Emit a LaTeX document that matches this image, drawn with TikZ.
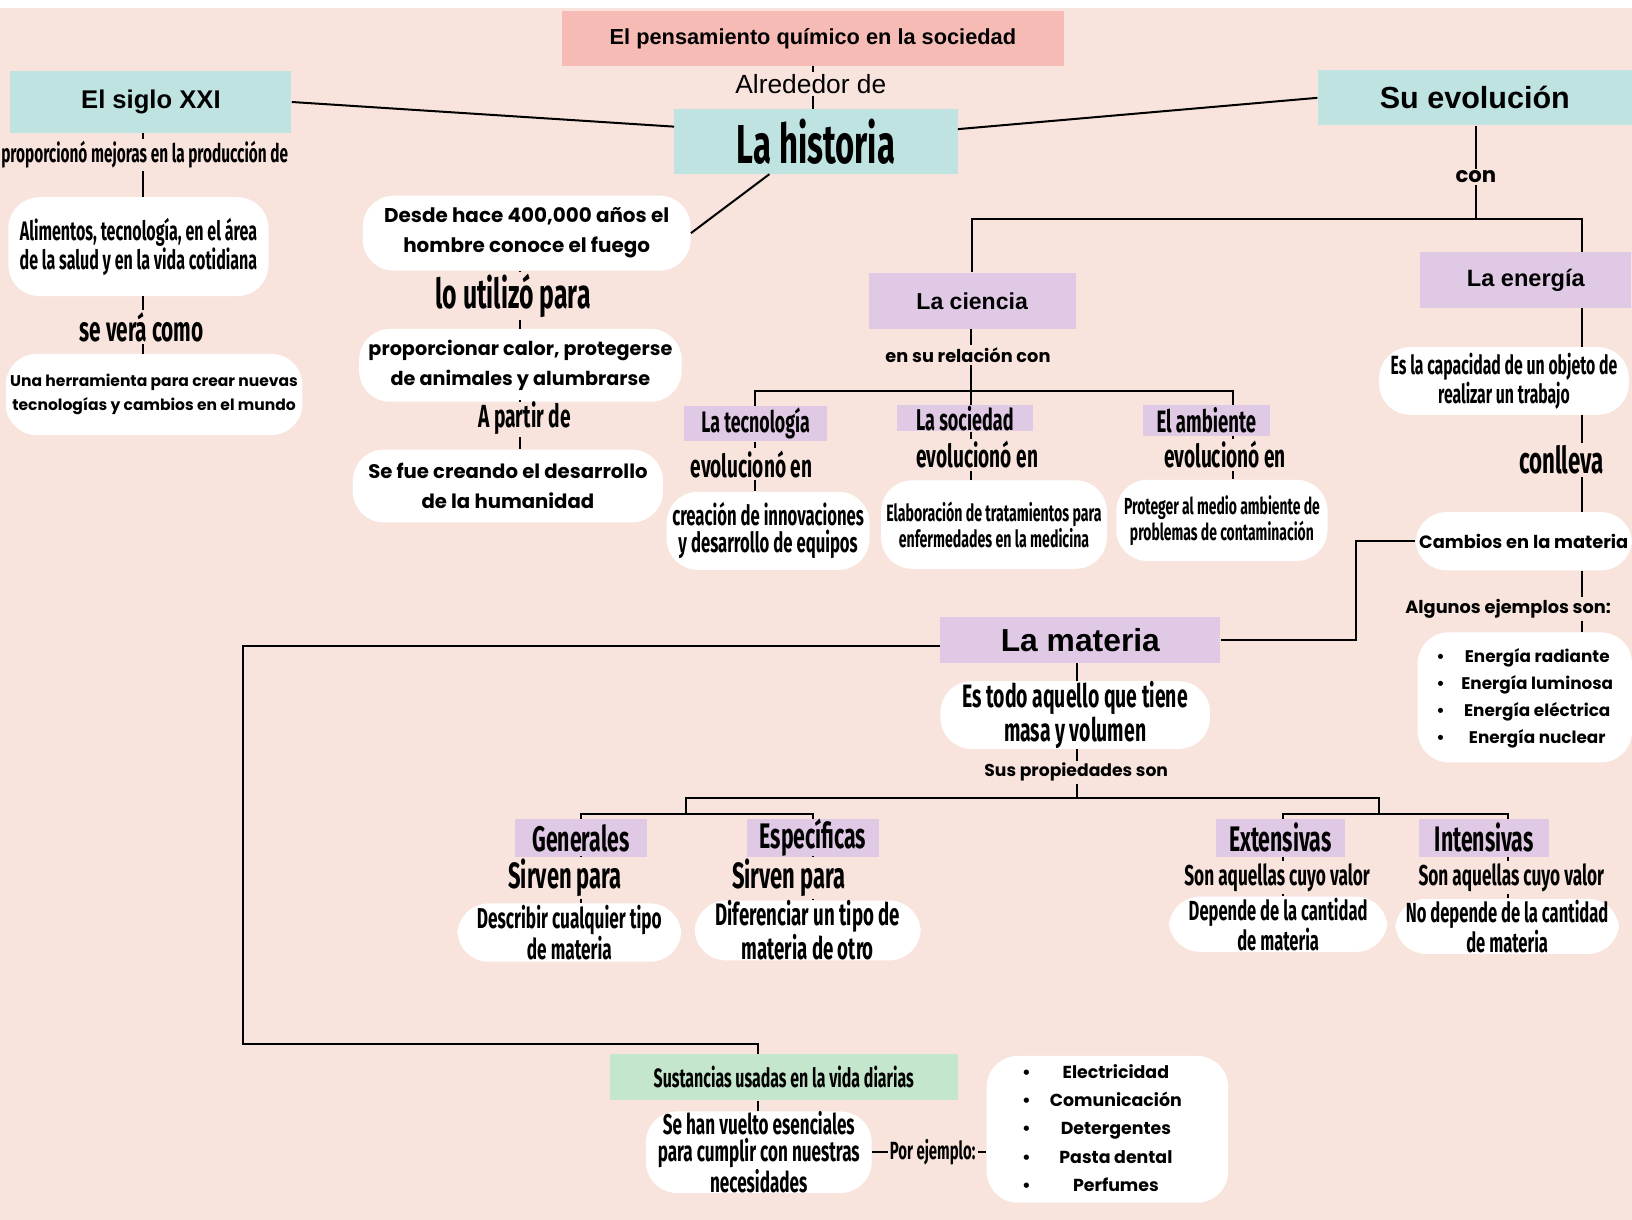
\documentclass[tikz,border=0pt]{standalone}
\usepackage{fontspec}
\setmainfont{Liberation Sans}
\newfontfamily\geo{Poppins}
\newfontfamily\cond[FakeStretch=0.6]{Fira Sans}
\usepackage{tikz}
\usetikzlibrary{calc}
\definecolor{fondo}{RGB}{249,228,221}
\definecolor{salmon}{RGB}{246,187,180}
\definecolor{turquesa}{RGB}{190,227,225}
\definecolor{lila}{RGB}{224,201,229}
\definecolor{menta}{RGB}{196,230,204}
\newcommand\fs[2]{\fontsize{#1}{#2}\selectfont}
\tikzstyle{conn} = [line width=1.1pt, black]
\tikzstyle{titlebox} = [rectangle, fill=salmon, inner sep=0pt, align=center]
\tikzstyle{mainbox} = [rectangle, fill=turquesa, inner sep=0pt, align=center]
\tikzstyle{topic} = [rectangle, fill=lila, inner sep=0pt, align=center]
\tikzstyle{greenbox} = [rectangle, fill=menta, inner sep=0pt, align=center]
\tikzstyle{bubble} = [rectangle, rounded corners=0.6cm, fill=white, inner sep=0pt, align=center]
\tikzstyle{word} = [inner sep=1pt, align=center]

\begin{document}
\begin{tikzpicture}[x=0.02cm, y=-0.02cm]
\useasboundingbox (0,0) rectangle (1568,1172);
\fill[white] (0,0) rectangle (1568,8);
\fill[fondo] (0,8) rectangle (1568,1172);
%----------------------------------------------------------------------------
% Top of the map
\node (title) [titlebox, minimum width=9.66cm, minimum height=1.04cm, font=\bfseries\fs{11.9}{14}] at (781,37) {El pensamiento químico en la sociedad};
\node (alrededor) [word, font=\fs{14.4}{17}] at (779,81) {Alrededor de};
\node (historia) [mainbox, minimum width=5.44cm, minimum height=1.24cm, font=\cond\bfseries\fs{30}{34}] at (784,136) {La historia};
\node (siglo) [mainbox, minimum width=5.4cm, minimum height=1.18cm, font=\bfseries\fs{14}{17}] at (145,98) {El siglo XXI};
\node (evol) [mainbox, minimum width=6.04cm, minimum height=1.06cm, font=\bfseries\fs{16.7}{20}] at (1417,94) {Su evolución};

%----------------------------------------------------------------------------
% El siglo XXI
\node (prop) [word, font=\cond\bfseries\fs{14}{16}] at (139,149) {proporcionó mejoras en la producción de};
\node (alimentos) [bubble, minimum width=5cm, minimum height=1.9cm, font=\cond\bfseries\fs{14.6}{14.2}] at (133,237) {Alimentos, tecnología, en el área\\de la salud y en la vida cotidiana};
\node (vera) [word, font=\cond\bfseries\fs{19}{22}] at (136,314) {se verá como};
\node (herramienta) [bubble, minimum width=5.7cm, minimum height=1.56cm, font=\geo\bfseries\fs{8.5}{13.1}] at (148,379) {Una herramienta para crear nuevas\\tecnologías y cambios en el mundo};

%----------------------------------------------------------------------------
% El fuego
\node (desde) [bubble, minimum width=6.3cm, minimum height=1.44cm, font=\geo\bfseries\fs{10.9}{16.5}] at (506,224) {Desde hace 400,000 años el\\hombre conoce el fuego};
\node (utilizo) [word, font=\cond\bfseries\fs{22.6}{25}] at (493,284) {lo utilizó para};
\node (calor) [bubble, minimum width=6.2cm, minimum height=1.4cm, font=\geo\bfseries\fs{10.5}{16}] at (500,351) {proporcionar calor, protegerse\\de animales y alumbrarse};
\node (apartir) [word, font=\cond\bfseries\fs{17.5}{20}] at (504,402) {A partir de};
\node (creando) [bubble, minimum width=5.96cm, minimum height=1.4cm, font=\geo\bfseries\fs{10.75}{16.5}] at (488,467) {Se fue creando el desarrollo\\de la humanidad};

%----------------------------------------------------------------------------
% Su evolucion
\node (con) [word, font=\geo\bfseries\fs{11.6}{13}] at (1418,170) {con};
\node (ciencia) [topic, minimum width=3.98cm, minimum height=1.08cm, font=\bfseries\fs{12.6}{15}] at (934,289) {La ciencia};
\node (energia) [topic, minimum width=4.06cm, minimum height=1.06cm, font=\bfseries\fs{12.9}{15}] at (1466,269) {La energía};
\node (relacion) [word, font=\geo\bfseries\fs{9.7}{11}] at (930,341) {en su relación con};

\node (tecnologia) [topic, minimum width=2.76cm, minimum height=0.68cm, font=\cond\bfseries\fs{16.2}{18}] at (726,407) {La tecnología};
\node (evolT) [word, font=\cond\bfseries\fs{17.4}{20}] at (722,446) {evolucionó en};
\node (innov) [bubble, minimum width=3.9cm, minimum height=1.5cm, font=\cond\bfseries\fs{15.2}{14.8}] at (738,510) {creación de innovaciones\\y desarrollo de equipos};

\node (sociedad) [topic, minimum width=2.62cm, minimum height=0.5cm, font=\cond\bfseries\fs{16.4}{18}] at (927,402) {La sociedad};
\node (evolS) [word, font=\cond\bfseries\fs{17.4}{20}] at (939,437) {evolucionó en};
\node (tratam) [bubble, minimum width=4.34cm, minimum height=1.7cm, font=\cond\bfseries\fs{12.9}{12.5}] at (955,504) {Elaboración de tratamientos para\\enfermedades en la medicina};

\node (ambiente) [topic, minimum width=2.44cm, minimum height=0.58cm, font=\cond\bfseries\fs{16.9}{18}] at (1159,404) {El ambiente};
\node (evolA) [word, font=\cond\bfseries\fs{17.4}{20}] at (1177,437) {evolucionó en};
\node (proteger) [bubble, minimum width=4.06cm, minimum height=1.56cm, font=\cond\bfseries\fs{12.7}{12}] at (1174,500) {Proteger al medio ambiente de\\problemas de contaminación};

%----------------------------------------------------------------------------
% La energia
\node (capacidad) [bubble, minimum width=4.8cm, minimum height=1.3cm, font=\cond\bfseries\fs{14.4}{14.2}] at (1445,366) {Es la capacidad de un objeto de\\realizar un trabajo};
\node (conlleva) [word, font=\cond\bfseries\fs{20.3}{23}] at (1500,442) {conlleva};
\node (cambios) [bubble, minimum width=4.16cm, minimum height=1.12cm, font=\geo\bfseries\fs{9.75}{11}] at (1464,520) {Cambios en la materia};
\node (ejemplos) [word, font=\geo\bfseries\fs{9.7}{11}] at (1449,585) {Algunos ejemplos son:};
\node (energias) [bubble, minimum width=4.12cm, minimum height=2.5cm, font=\geo\bfseries\fs{9.2}{14.8}] at (1465,670) {%
  \begin{tabular}{@{}l@{\hspace{9pt}}c@{}}
  \textbullet & Energía radiante\\
  \textbullet & Energía luminosa\\
  \textbullet & Energía eléctrica\\
  \textbullet & Energía nuclear
  \end{tabular}};

%----------------------------------------------------------------------------
% La materia
\node (materia) [topic, minimum width=5.38cm, minimum height=0.88cm, font=\bfseries\fs{17.4}{20}] at (1038,615) {La materia};
\node (esTodo) [bubble, minimum width=5.18cm, minimum height=1.3cm, font=\cond\bfseries\fs{17.7}{17}] at (1033,687) {Es todo aquello que tiene\\masa y volumen};
\node (propiedades) [word, font=\geo\bfseries\fs{9.4}{11}] at (1034,742) {Sus propiedades son};

\node (generales) [topic, minimum width=2.54cm, minimum height=0.72cm, font=\cond\bfseries\fs{19.4}{21}] at (558,805) {Generales};
\node (sirvenG) [word, font=\cond\bfseries\fs{20}{22}] at (543,843) {Sirven para};
\node (describir) [bubble, minimum width=4.3cm, minimum height=1.12cm, font=\cond\bfseries\fs{15.7}{15.4}] at (547,896) {Describir cualquier tipo\\de materia};

\node (especificas) [topic, minimum width=2.54cm, minimum height=0.72cm, font=\cond\bfseries\fs{19.4}{21}] at (781,805) {Específicas};
\node (sirvenE) [word, font=\cond\bfseries\fs{20}{22}] at (758,843) {Sirven para};
\node (diferenciar) [bubble, minimum width=4.34cm, minimum height=1.12cm, font=\cond\bfseries\fs{17}{16}] at (776,894) {Diferenciar un tipo de\\materia de otro};

\node (extensivas) [topic, minimum width=2.48cm, minimum height=0.72cm, font=\cond\bfseries\fs{19.4}{21}] at (1230,805) {Extensivas};
\node (valorE) [word, font=\cond\bfseries\fs{15.7}{17}] at (1227,843) {Son aquellas cuyo valor};
\node (dependeE) [bubble, minimum width=4.2cm, minimum height=1.06cm, font=\cond\bfseries\fs{15.1}{15.4}] at (1228,888) {Depende de la cantidad\\de materia};

\node (intensivas) [topic, minimum width=2.5cm, minimum height=0.72cm, font=\cond\bfseries\fs{19.4}{21}] at (1426,805) {Intensivas};
\node (valorI) [word, font=\cond\bfseries\fs{15.7}{17}] at (1452,843) {Son aquellas cuyo valor};
\node (dependeI) [bubble, minimum width=4.3cm, minimum height=1.06cm, font=\cond\bfseries\fs{15.1}{15.4}] at (1448,890) {No depende de la cantidad\\de materia};

%----------------------------------------------------------------------------
% Sustancias
\node (sustancias) [greenbox, minimum width=6.68cm, minimum height=0.88cm, font=\cond\bfseries\fs{14.5}{16}] at (753,1035) {Sustancias usadas en la vida diarias};
\node (necesidades) [bubble, minimum width=4.34cm, minimum height=1.52cm, font=\cond\bfseries\fs{15.6}{14.5}] at (729,1107) {Se han vuelto esenciales\\para cumplir con nuestras\\necesidades};
\node (ejemplo) [word, font=\cond\bfseries\fs{13.6}{15}] at (896,1107) {Por ejemplo:};
\node (productos) [bubble, minimum width=4.64cm, minimum height=2.82cm, font=\geo\bfseries\fs{9.5}{15.4}] at (1064,1085) {%
  \begin{tabular}{@{}l@{\hspace{10.5pt}}c@{\hspace{6pt}}}
  \textbullet & Electricidad\\
  \textbullet & Comunicación\\
  \textbullet & Detergentes\\
  \textbullet & Pasta dental\\
  \textbullet & Perfumes
  \end{tabular}};

%----------------------------------------------------------------------------
% Trunks and joins
\coordinate (sigloX) at (137,0);
\coordinate (fuegoX) at (500,0);
\coordinate (evolX) at (1418,0);
\coordinate (conJoin) at (1418,210);
\coordinate (cienciaX) at (933,0);
\coordinate (relJoin) at (933,376);
\coordinate (tecX) at (725,0);
\coordinate (ambX) at (1185,0);
\coordinate (energyX) at (1520,0);
\coordinate (matBend) at (1303,560);
\coordinate (materiaX) at (1035,0);
\coordinate (propJoin) at (1035,767);
\coordinate (genJoin) at (659,782);
\coordinate (extJoin) at (1325,782);
\coordinate (extX) at (1233,0);
\coordinate (intX) at (1449,0);
\coordinate (matCorner) at (233,1003);
\coordinate (sustJoin) at (728,1003);

%----------------------------------------------------------------------------
% Lines
\draw [conn] (title.south) -- (title.south |- alrededor.north);
\draw [conn] (title.south |- alrededor.south) -- (title.south |- historia.north);
\draw [conn] (siglo.east) -- (historia.174);
\draw [conn] (historia.5) -- (evol.west);
\draw [conn] (historia.-145) -- (desde.east);

\draw [conn] (siglo.south -| sigloX) -- (prop.north -| sigloX);
\draw [conn] (prop.south -| sigloX) -- (alimentos.north -| sigloX);
\draw [conn] (alimentos.south -| sigloX) -- (vera.north -| sigloX);
\draw [conn] (vera.south -| sigloX) -- (herramienta.north -| sigloX);

\draw [conn] (desde.south -| fuegoX) -- (utilizo.north -| fuegoX);
\draw [conn] (utilizo.south -| fuegoX) -- (calor.north -| fuegoX);
\draw [conn] (calor.south -| fuegoX) -- (apartir.north -| fuegoX);
\draw [conn] (apartir.south -| fuegoX) -- (creando.north -| fuegoX);

\draw [conn] (evol.south -| evolX) -- (con.north -| evolX);
\draw [conn] (con.south -| evolX) -- (conJoin);
\draw [conn] (ciencia.north) |- (conJoin) -| (energia.north -| energyX);

\draw [conn] (ciencia.south -| cienciaX) -- (relacion.north -| cienciaX);
\draw [conn] (relacion.south -| cienciaX) -- (sociedad.north -| cienciaX);
\draw [conn] (tecnologia.north -| tecX) |- (relJoin) -| (ambiente.north -| ambX);
\draw [conn] (tecnologia.south -| tecX) -- (evolT.north -| tecX);
\draw [conn] (evolT.south -| tecX) -- (innov.north -| tecX);
\draw [conn] (sociedad.south -| cienciaX) -- (evolS.north -| cienciaX);
\draw [conn] (evolS.south -| cienciaX) -- (tratam.north -| cienciaX);
\draw [conn] (ambiente.south -| ambX) -- (evolA.north -| ambX);
\draw [conn] (evolA.south -| ambX) -- (proteger.north -| ambX);

\draw [conn] (energia.south -| energyX) -- (capacidad.north -| energyX);
\draw [conn] (capacidad.south -| energyX) -- (conlleva.north -| energyX);
\draw [conn] (conlleva.south -| energyX) -- (cambios.north -| energyX);
\draw [conn] (cambios.south -| energyX) -- (ejemplos.north -| energyX);
\draw [conn] (ejemplos.south -| energyX) -- (energias.north -| energyX);
\draw [conn] (cambios.west) -| (matBend) |- (materia.east);

\draw [conn] (materia.south -| materiaX) -- (esTodo.north -| materiaX);
\draw [conn] (esTodo.south -| materiaX) -- (propiedades.north -| materiaX);
\draw [conn] (propiedades.south -| materiaX) -- (propJoin);
\draw [conn] (genJoin) |- (propJoin) -| (extJoin);
\draw [conn] (generales.north) |- (genJoin) -| (especificas.north);
\draw [conn] (extensivas.north -| extX) |- (extJoin) -| (intensivas.north -| intX);

\draw [conn] (generales.south) -- (generales.south |- sirvenG.north);
\draw [conn] (generales.south |- sirvenG.south) -- (generales.south |- describir.north);
\draw [conn] (especificas.south) -- (especificas.south |- sirvenE.north);
\draw [conn] (especificas.south |- sirvenE.south) -- (especificas.south |- diferenciar.north);
\draw [conn] (extensivas.south -| extX) -- (valorE.north -| extX);
\draw [conn] (valorE.south -| extX) -- (dependeE.north -| extX);
\draw [conn] (intensivas.south -| intX) -- (valorI.north -| intX);
\draw [conn] (valorI.south -| intX) -- (dependeI.north -| intX);

\draw [conn] ([yshift=-0.12cm]materia.west) -| (matCorner) -- (sustJoin) -- (sustJoin |- sustancias.north);
\draw [conn] (sustJoin |- sustancias.south) -- (sustJoin |- necesidades.north);
\draw [conn] (necesidades.east) -- (ejemplo.west);
\draw [conn] (ejemplo.east) -- (ejemplo.east -| productos.west);

\end{tikzpicture}
\end{document}
